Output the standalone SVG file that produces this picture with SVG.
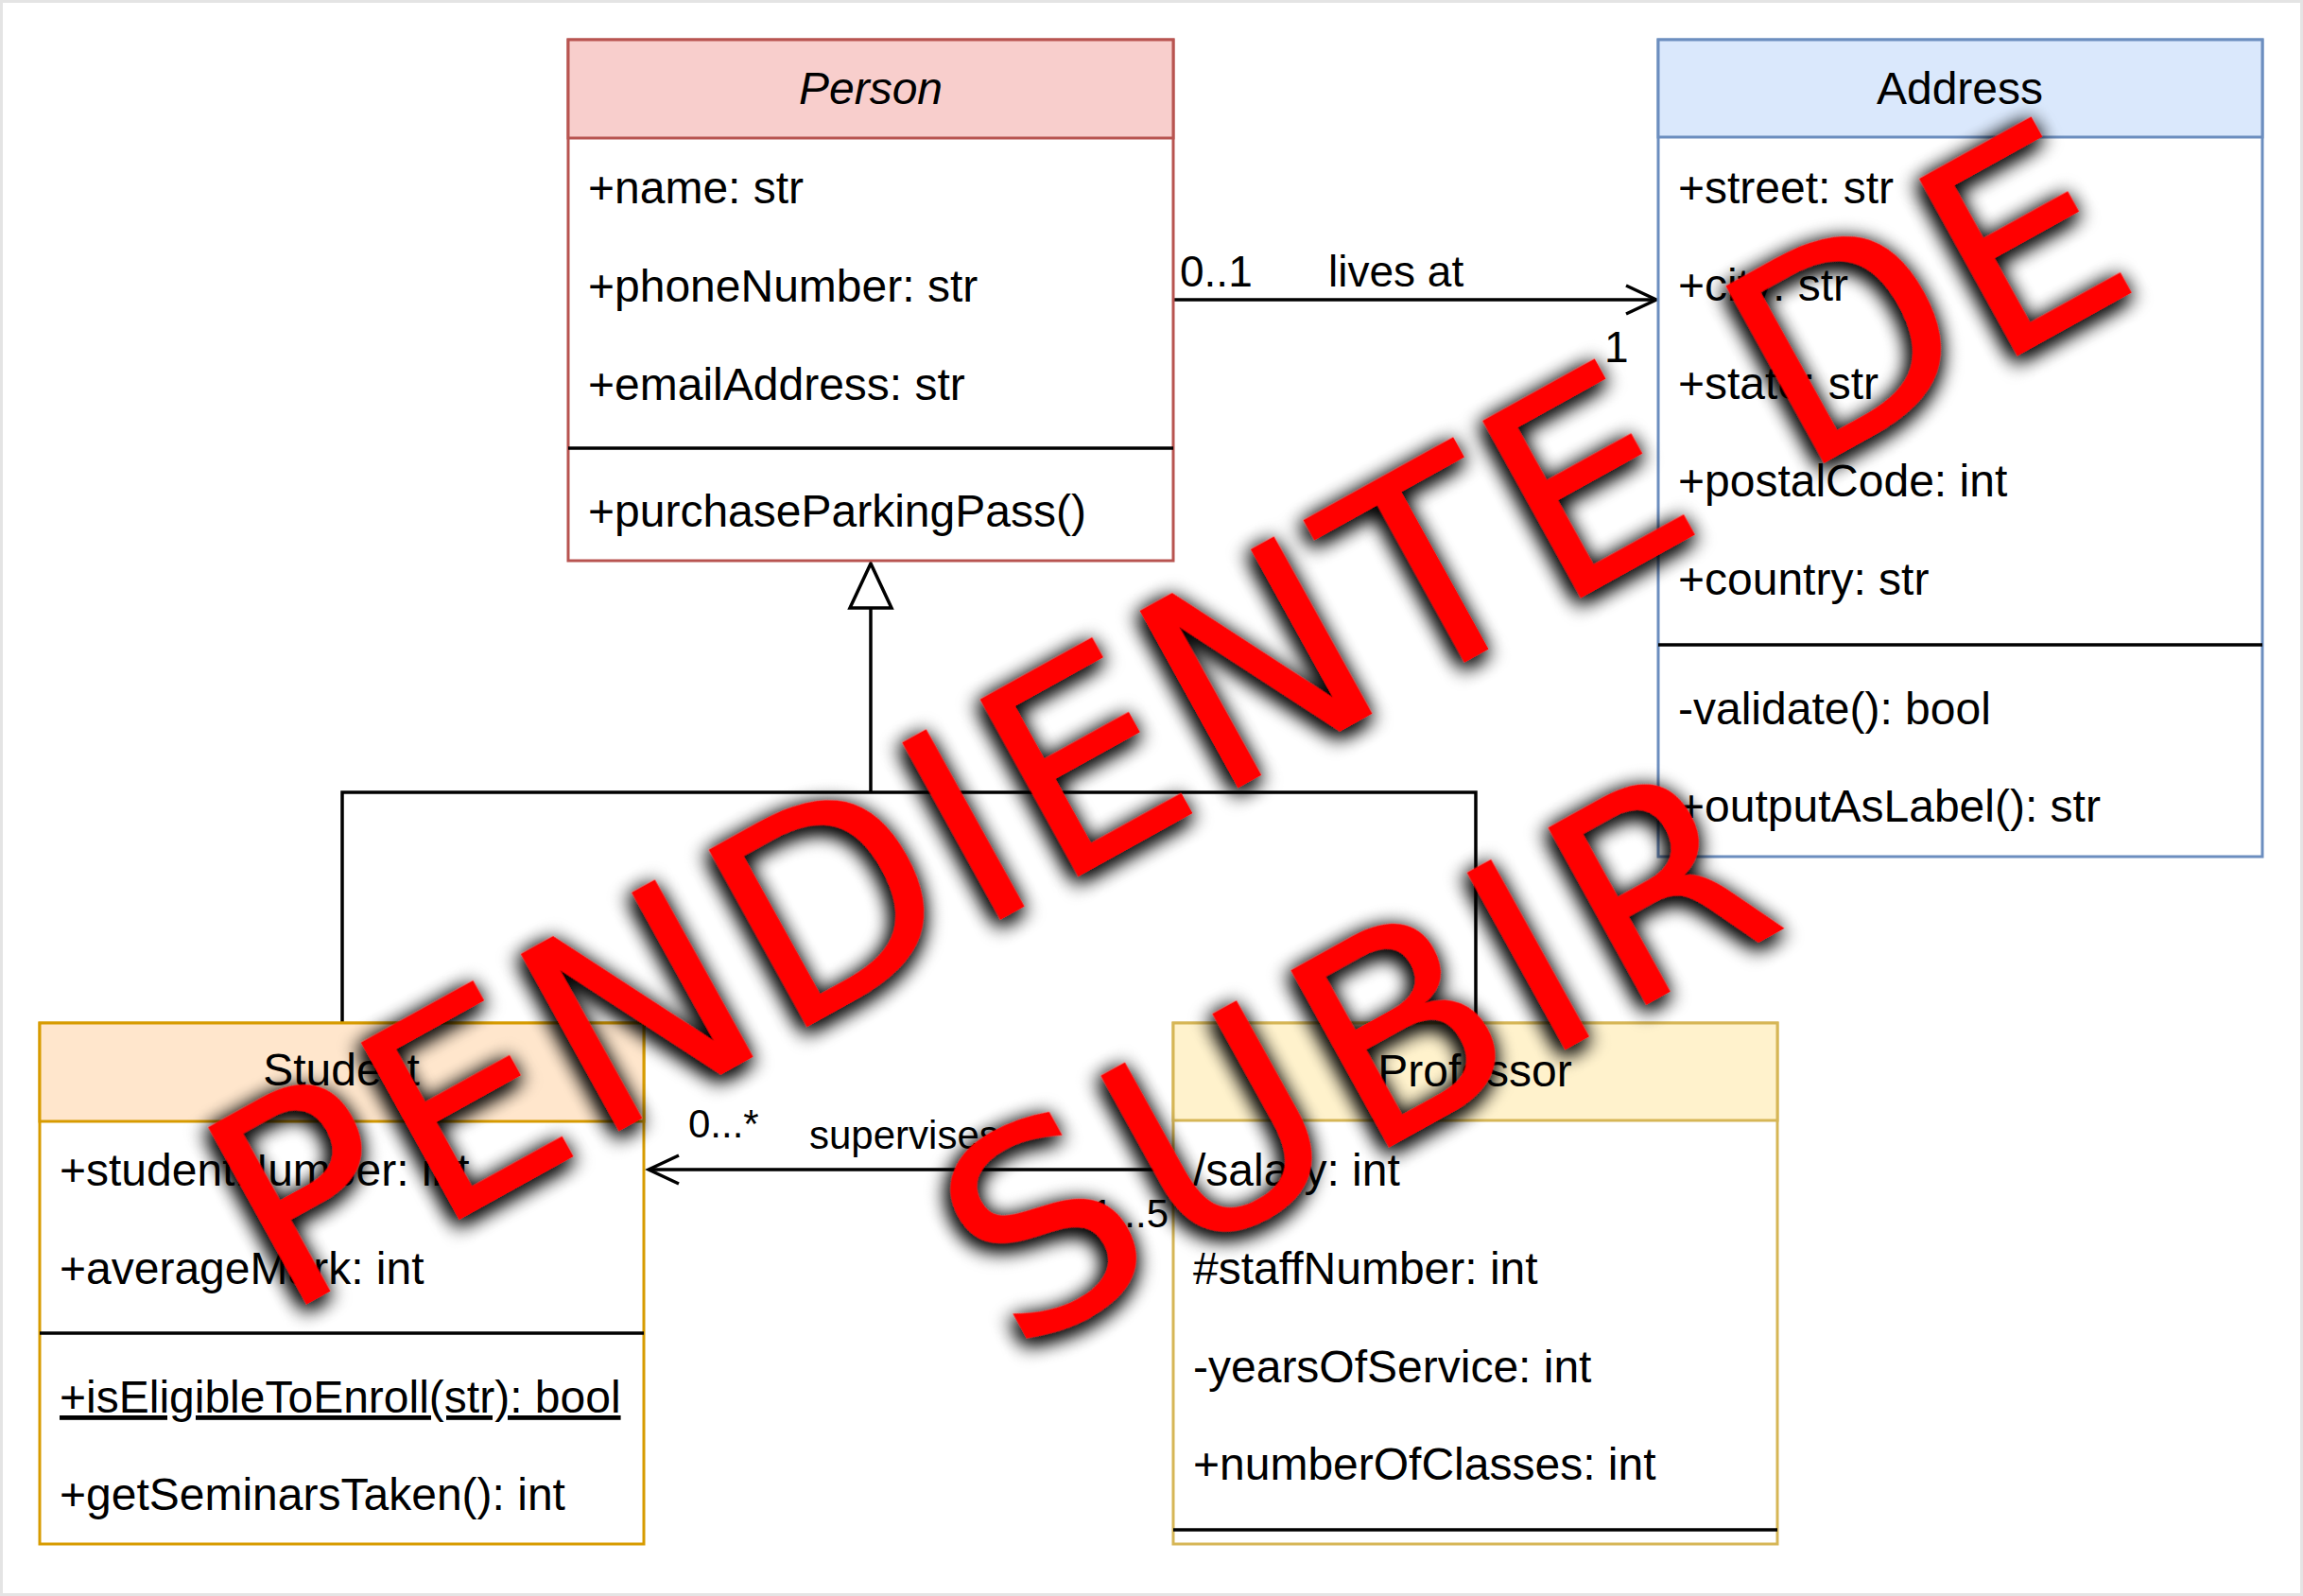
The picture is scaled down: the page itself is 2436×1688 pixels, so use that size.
<svg xmlns="http://www.w3.org/2000/svg" width="2436" height="1688" viewBox="0 0 2436 1688">
<defs>
<style>
.t{font-family:"Liberation Sans",Arial,Helvetica,sans-serif;font-size:48px;fill:#000}
.ti{text-anchor:middle}
.l1{font-size:46px}
.l2{font-size:42px}
.ln{stroke:#000;stroke-width:3.5;fill:none}
.sep{stroke:#000;stroke-width:3.5}
.wm{font-family:"DejaVu Sans",Verdana,sans-serif;font-size:294px;fill:#ff0000;text-anchor:middle}
</style>
<marker id="open" viewBox="0 0 40 34" refX="36" refY="17" markerWidth="40" markerHeight="34" markerUnits="userSpaceOnUse" orient="auto">
<path d="M4,2 L36,17 L4,32" fill="none" stroke="#000" stroke-width="3.5"/>
</marker>
<filter id="sh" x="-10%" y="-40%" width="120%" height="180%">
<feGaussianBlur in="SourceAlpha" stdDeviation="11"/>
<feOffset dx="-4" dy="4" result="b"/>
<feFlood flood-color="#000" flood-opacity="1"/>
<feComposite in2="b" operator="in" result="s"/>
<feMerge><feMergeNode in="s"/><feMergeNode in="s"/><feMergeNode in="SourceGraphic"/></feMerge>
</filter>
</defs>
<rect x="0" y="0" width="2436" height="1688" fill="#ffffff"/>
<rect x="1.5" y="1.5" width="2433" height="1685" fill="none" stroke="#e4e4e4" stroke-width="3"/>

<g id="connectors">
<path class="ln" d="M1241,317 H1752" marker-end="url(#open)"/>
<text class="t l1" x="1248" y="303">0..1</text>
<text class="t l1" x="1405" y="303">lives at</text>
<text class="t l1" x="1697" y="383">1</text>
<path class="ln" d="M362,1082 V838 H1561 V1082 M921,838 V643"/>
<polygon points="921,596 899,643 943,643" fill="#fff" stroke="#000" stroke-width="3.5"/>
<path class="ln" d="M1241,1237 H686" marker-end="url(#open)"/>
<text class="t l2" x="728" y="1203">0...*</text>
<text class="t l2" x="856" y="1215">supervises</text>
<text class="t l2" x="1236" y="1298" text-anchor="end">1...5</text>
</g>

<g id="person">
<rect x="601" y="42" width="640" height="551" fill="#fff" stroke="#b85450" stroke-width="3"/>
<rect x="601" y="42" width="640" height="104" fill="#f8cecc" stroke="#b85450" stroke-width="3"/>
<text class="t ti" x="921" y="110" font-style="italic">Person</text>
<text class="t" x="622" y="215">+name: str</text>
<text class="t" x="622" y="319">+phoneNumber: str</text>
<text class="t" x="622" y="423">+emailAddress: str</text>
<line class="sep" x1="601" y1="474" x2="1241" y2="474"/>
<text class="t" x="622" y="557">+purchaseParkingPass()</text>
</g>

<g id="address">
<rect x="1754" y="42" width="639" height="864" fill="#fff" stroke="#6c8ebf" stroke-width="3"/>
<rect x="1754" y="42" width="639" height="103" fill="#dae8fc" stroke="#6c8ebf" stroke-width="3"/>
<text class="t ti" x="2073" y="110">Address</text>
<text class="t" x="1775" y="215">+street: str</text>
<text class="t" x="1775" y="318">+city: str</text>
<text class="t" x="1775" y="422">+state: str</text>
<text class="t" x="1775" y="525">+postalCode: int</text>
<text class="t" x="1775" y="629">+country: str</text>
<line class="sep" x1="1754" y1="682" x2="2393" y2="682"/>
<text class="t" x="1775" y="766">-validate(): bool</text>
<text class="t" x="1775" y="869">+outputAsLabel(): str</text>
</g>

<g id="student">
<rect x="42" y="1082" width="639" height="551" fill="#fff" stroke="#d79b00" stroke-width="3"/>
<rect x="42" y="1082" width="639" height="104" fill="#ffe6cc" stroke="#d79b00" stroke-width="3"/>
<text class="t ti" x="361" y="1148">Student</text>
<text class="t" x="63" y="1254">+studentNumber: int</text>
<text class="t" x="63" y="1358">+averageMark: int</text>
<line class="sep" x1="42" y1="1410" x2="681" y2="1410"/>
<text class="t" x="63" y="1494" text-decoration="underline">+isEligibleToEnroll(str): bool</text>
<text class="t" x="63" y="1597">+getSeminarsTaken(): int</text>
</g>

<g id="professor">
<rect x="1241" y="1082" width="639" height="551" fill="#fff" stroke="#d6b656" stroke-width="3"/>
<rect x="1241" y="1082" width="639" height="103" fill="#fff2cc" stroke="#d6b656" stroke-width="3"/>
<text class="t ti" x="1560" y="1149">Professor</text>
<text class="t" x="1262" y="1254">/salary: int</text>
<text class="t" x="1262" y="1358">#staffNumber: int</text>
<text class="t" x="1262" y="1462">-yearsOfService: int</text>
<text class="t" x="1262" y="1565">+numberOfClasses: int</text>
<line class="sep" x1="1241" y1="1618" x2="1880" y2="1618"/>
</g>

<g id="watermark" filter="url(#sh)" transform="translate(1285,847) rotate(-29)">
<text class="wm" x="0" y="0" textLength="2255" lengthAdjust="spacing">PENDIENTE DE</text>
<text class="wm" x="0" y="410" textLength="940" lengthAdjust="spacing">SUBIR</text>
</g>
</svg>
